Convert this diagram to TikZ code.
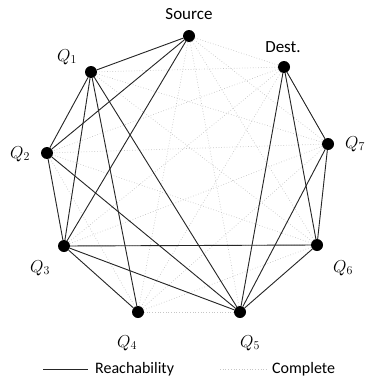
\documentclass[tikz,border=0pt]{standalone}
\usepackage{amsmath}
\usepackage{fontspec}
\setsansfont{Carlito}
\usepackage{tikz}

\begin{document}
\begin{tikzpicture}[x=1pt,y=-1pt,
    dot/.style={circle,fill=black,inner sep=0pt,minimum size=12pt},
    reach/.style={draw=black!85,line width=0.9pt},
    complete/.style={draw=gray!45,dotted,line width=0.7pt},
    txt/.style={font=\sffamily\fontsize{17}{20}\selectfont,inner sep=0pt},
    leg/.style={font=\sffamily\fontsize{16}{19}\selectfont,inner sep=0pt},
    qlab/.style={font=\fontsize{18}{21}\selectfont,inner sep=0pt}]
\useasboundingbox (0,0) rectangle (368,380);
\node[dot] (src) at (189,36) {};
\node[dot] (dst) at (284,67) {};
\node[dot] (q7) at (328,144) {};
\node[dot] (q6) at (317,245) {};
\node[dot] (q5) at (240,312) {};
\node[dot] (q4) at (138,312) {};
\node[dot] (q3) at (64,246) {};
\node[dot] (q2) at (47,153) {};
\node[dot] (q1) at (91,72) {};

\node[txt] (srclab) at (189,14) {Source};
\node[txt] (dstlab) at (283,47) {Dest.};
\node[qlab] (q1lab) at (67,57) {$Q_1$};
\node[qlab] (q2lab) at (20,154) {$Q_2$};
\node[qlab] (q3lab) at (40,268) {$Q_3$};
\node[qlab] (q4lab) at (127,343) {$Q_4$};
\node[qlab] (q5lab) at (250,343) {$Q_5$};
\node[qlab] (q6lab) at (343,268) {$Q_6$};
\node[qlab] (q7lab) at (355,144) {$Q_7$};

% complete graph in the background
\foreach \u [count=\i] in {src,dst,q7,q6,q5,q4,q3,q2,q1}
  \foreach \v [count=\j] in {src,dst,q7,q6,q5,q4,q3,q2,q1}
    {\ifnum\j>\i \draw[complete] (\u) -- (\v); \fi}

% reachability edges
\foreach \u/\v in {src/q1,src/q2,src/q3,q1/q2,q1/q3,q1/q4,q1/q5,q2/q3,q2/q5,
                   q3/q4,q3/q5,q3/q6,dst/q5,dst/q6,dst/q7,q7/q5,q7/q6,q6/q5}
  \draw[reach] (\u) -- (\v);

% legend
\coordinate (ra) at (43,369);
\coordinate (rb) at (88,369);
\coordinate (ca) at (220,369);
\coordinate (cb) at (266,369);
\draw[reach] (ra) -- (rb);
\node[leg,anchor=west] (rlab) at (95,369) {Reachability};
\draw[complete] (ca) -- (cb);
\node[leg,anchor=west] (clab) at (272,369) {Complete};
\end{tikzpicture}
\end{document}
